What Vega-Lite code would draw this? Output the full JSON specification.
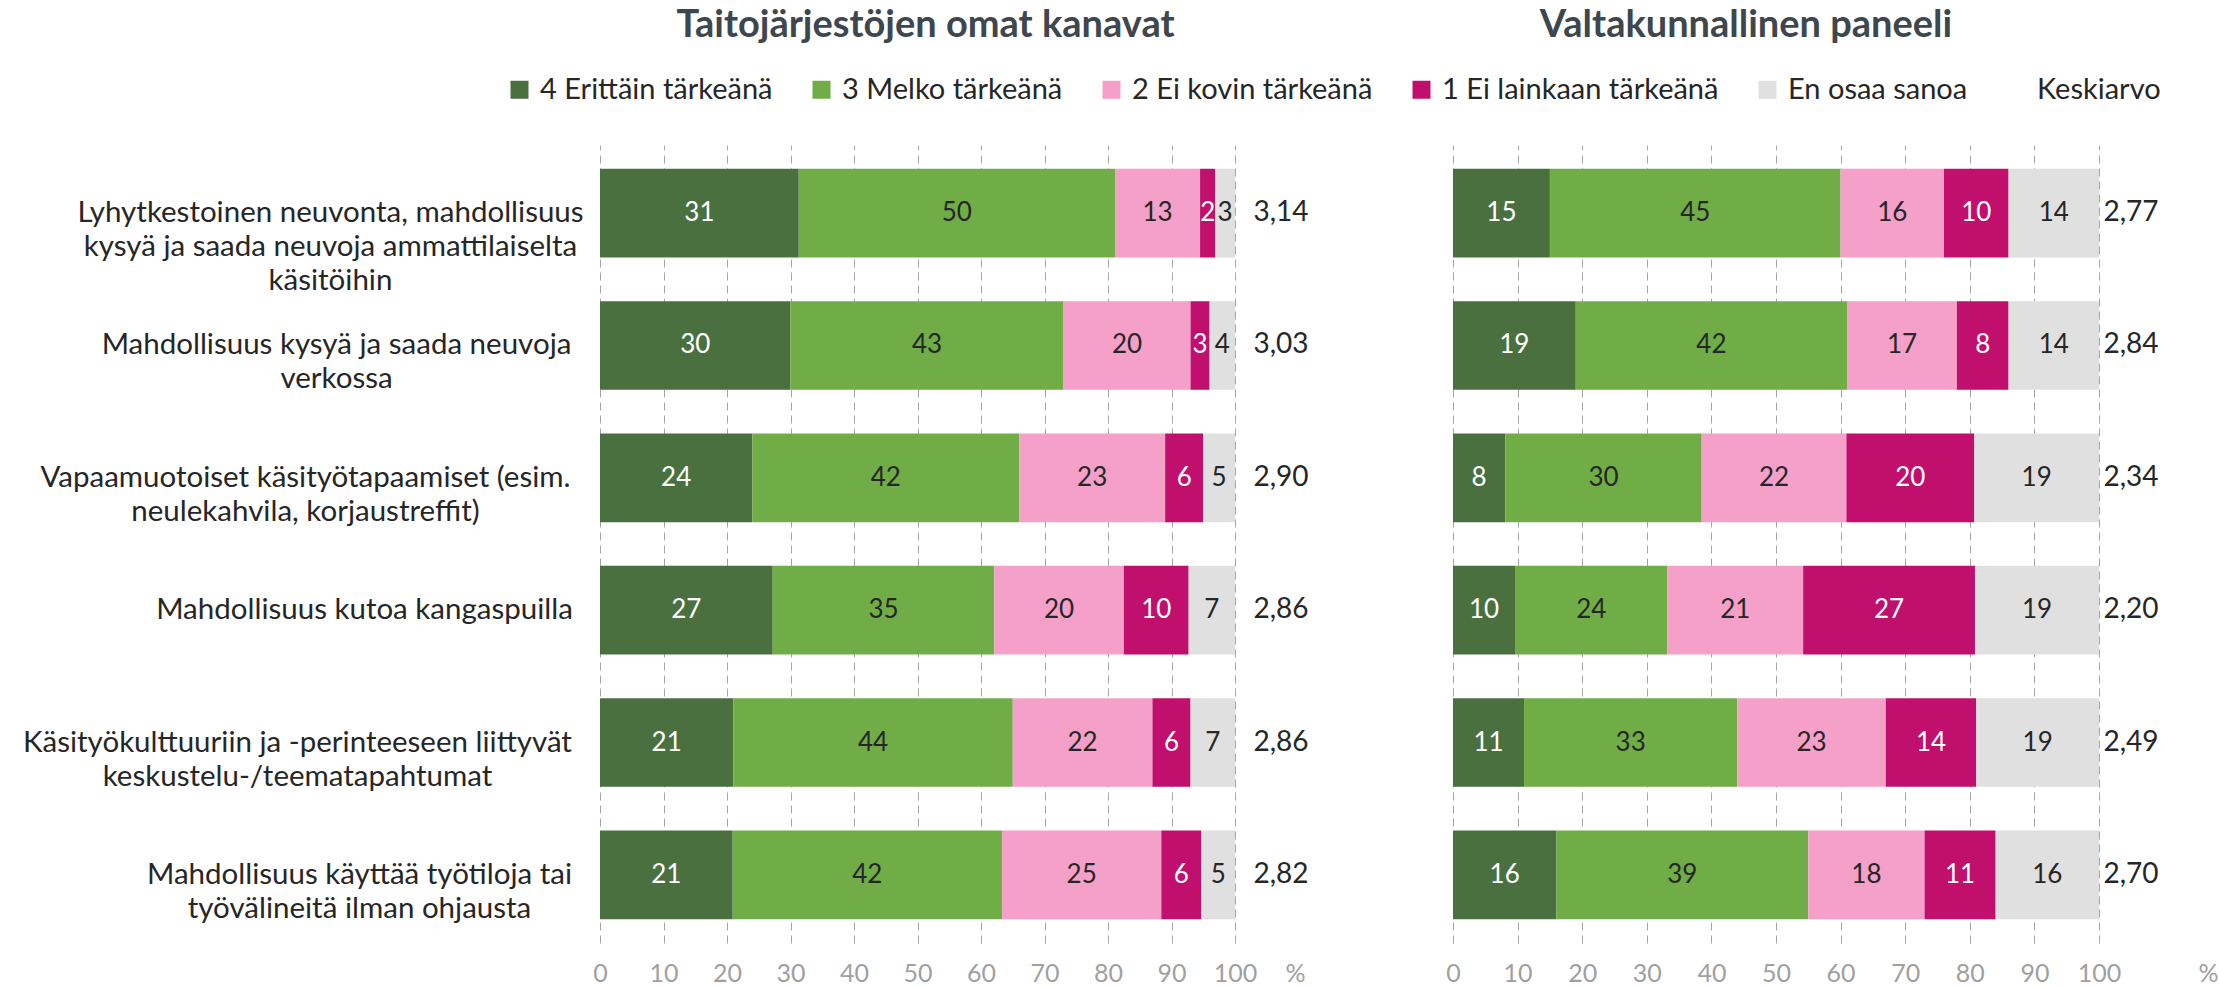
{
  "$schema": "https://vega.github.io/schema/vega-lite/v6.json",
  "bounds": "flush",
  "spacing": 218,
  "padding": {"left": 22, "top": 7, "right": 5, "bottom": 0},
  "config": {
    "font": "Lato",
    "view": {"stroke": null},
    "locale": {"number": {"decimal": ",", "thousands": " ", "grouping": [3], "currency": ["", " €"]}},
    "axis": {"labelFont": "Lato", "titleFont": "Lato"}
  },
  "datasets": {
    "bars": [
      {"panel": "L", "qi": 1, "q": "Lyhytkestoinen neuvonta, mahdollisuus|kysyä ja saada neuvoja ammattilaiselta|käsitöihin", "k": 1, "cat": "4 Erittäin tärkeänä", "value": 31.3},
      {"panel": "L", "qi": 1, "q": "Lyhytkestoinen neuvonta, mahdollisuus|kysyä ja saada neuvoja ammattilaiselta|käsitöihin", "k": 2, "cat": "3 Melko tärkeänä", "value": 49.8},
      {"panel": "L", "qi": 1, "q": "Lyhytkestoinen neuvonta, mahdollisuus|kysyä ja saada neuvoja ammattilaiselta|käsitöihin", "k": 3, "cat": "2 Ei kovin tärkeänä", "value": 13.4},
      {"panel": "L", "qi": 1, "q": "Lyhytkestoinen neuvonta, mahdollisuus|kysyä ja saada neuvoja ammattilaiselta|käsitöihin", "k": 4, "cat": "1 Ei lainkaan tärkeänä", "value": 2.4},
      {"panel": "L", "qi": 1, "q": "Lyhytkestoinen neuvonta, mahdollisuus|kysyä ja saada neuvoja ammattilaiselta|käsitöihin", "k": 5, "cat": "En osaa sanoa", "value": 3.1},
      {"panel": "L", "qi": 2, "q": "Mahdollisuus kysyä ja saada neuvoja|verkossa", "k": 1, "cat": "4 Erittäin tärkeänä", "value": 30},
      {"panel": "L", "qi": 2, "q": "Mahdollisuus kysyä ja saada neuvoja|verkossa", "k": 2, "cat": "3 Melko tärkeänä", "value": 43},
      {"panel": "L", "qi": 2, "q": "Mahdollisuus kysyä ja saada neuvoja|verkossa", "k": 3, "cat": "2 Ei kovin tärkeänä", "value": 20},
      {"panel": "L", "qi": 2, "q": "Mahdollisuus kysyä ja saada neuvoja|verkossa", "k": 4, "cat": "1 Ei lainkaan tärkeänä", "value": 3},
      {"panel": "L", "qi": 2, "q": "Mahdollisuus kysyä ja saada neuvoja|verkossa", "k": 5, "cat": "En osaa sanoa", "value": 4},
      {"panel": "L", "qi": 3, "q": "Vapaamuotoiset käsityötapaamiset (esim.|neulekahvila, korjaustreffit)", "k": 1, "cat": "4 Erittäin tärkeänä", "value": 24},
      {"panel": "L", "qi": 3, "q": "Vapaamuotoiset käsityötapaamiset (esim.|neulekahvila, korjaustreffit)", "k": 2, "cat": "3 Melko tärkeänä", "value": 42},
      {"panel": "L", "qi": 3, "q": "Vapaamuotoiset käsityötapaamiset (esim.|neulekahvila, korjaustreffit)", "k": 3, "cat": "2 Ei kovin tärkeänä", "value": 23},
      {"panel": "L", "qi": 3, "q": "Vapaamuotoiset käsityötapaamiset (esim.|neulekahvila, korjaustreffit)", "k": 4, "cat": "1 Ei lainkaan tärkeänä", "value": 6},
      {"panel": "L", "qi": 3, "q": "Vapaamuotoiset käsityötapaamiset (esim.|neulekahvila, korjaustreffit)", "k": 5, "cat": "En osaa sanoa", "value": 5},
      {"panel": "L", "qi": 4, "q": "Mahdollisuus kutoa kangaspuilla", "k": 1, "cat": "4 Erittäin tärkeänä", "value": 27.2},
      {"panel": "L", "qi": 4, "q": "Mahdollisuus kutoa kangaspuilla", "k": 2, "cat": "3 Melko tärkeänä", "value": 34.9},
      {"panel": "L", "qi": 4, "q": "Mahdollisuus kutoa kangaspuilla", "k": 3, "cat": "2 Ei kovin tärkeänä", "value": 20.4},
      {"panel": "L", "qi": 4, "q": "Mahdollisuus kutoa kangaspuilla", "k": 4, "cat": "1 Ei lainkaan tärkeänä", "value": 10.2},
      {"panel": "L", "qi": 4, "q": "Mahdollisuus kutoa kangaspuilla", "k": 5, "cat": "En osaa sanoa", "value": 7.3},
      {"panel": "L", "qi": 5, "q": "Käsityökulttuuriin ja -perinteeseen liittyvät|keskustelu-/teematapahtumat", "k": 1, "cat": "4 Erittäin tärkeänä", "value": 21},
      {"panel": "L", "qi": 5, "q": "Käsityökulttuuriin ja -perinteeseen liittyvät|keskustelu-/teematapahtumat", "k": 2, "cat": "3 Melko tärkeänä", "value": 44},
      {"panel": "L", "qi": 5, "q": "Käsityökulttuuriin ja -perinteeseen liittyvät|keskustelu-/teematapahtumat", "k": 3, "cat": "2 Ei kovin tärkeänä", "value": 22},
      {"panel": "L", "qi": 5, "q": "Käsityökulttuuriin ja -perinteeseen liittyvät|keskustelu-/teematapahtumat", "k": 4, "cat": "1 Ei lainkaan tärkeänä", "value": 6},
      {"panel": "L", "qi": 5, "q": "Käsityökulttuuriin ja -perinteeseen liittyvät|keskustelu-/teematapahtumat", "k": 5, "cat": "En osaa sanoa", "value": 7},
      {"panel": "L", "qi": 6, "q": "Mahdollisuus käyttää työtiloja tai|työvälineitä ilman ohjausta", "k": 1, "cat": "4 Erittäin tärkeänä", "value": 20.9},
      {"panel": "L", "qi": 6, "q": "Mahdollisuus käyttää työtiloja tai|työvälineitä ilman ohjausta", "k": 2, "cat": "3 Melko tärkeänä", "value": 42.4},
      {"panel": "L", "qi": 6, "q": "Mahdollisuus käyttää työtiloja tai|työvälineitä ilman ohjausta", "k": 3, "cat": "2 Ei kovin tärkeänä", "value": 25.1},
      {"panel": "L", "qi": 6, "q": "Mahdollisuus käyttää työtiloja tai|työvälineitä ilman ohjausta", "k": 4, "cat": "1 Ei lainkaan tärkeänä", "value": 6.3},
      {"panel": "L", "qi": 6, "q": "Mahdollisuus käyttää työtiloja tai|työvälineitä ilman ohjausta", "k": 5, "cat": "En osaa sanoa", "value": 5.3},
      {"panel": "R", "qi": 1, "q": "Lyhytkestoinen neuvonta, mahdollisuus|kysyä ja saada neuvoja ammattilaiselta|käsitöihin", "k": 1, "cat": "4 Erittäin tärkeänä", "value": 15},
      {"panel": "R", "qi": 1, "q": "Lyhytkestoinen neuvonta, mahdollisuus|kysyä ja saada neuvoja ammattilaiselta|käsitöihin", "k": 2, "cat": "3 Melko tärkeänä", "value": 45},
      {"panel": "R", "qi": 1, "q": "Lyhytkestoinen neuvonta, mahdollisuus|kysyä ja saada neuvoja ammattilaiselta|käsitöihin", "k": 3, "cat": "2 Ei kovin tärkeänä", "value": 16},
      {"panel": "R", "qi": 1, "q": "Lyhytkestoinen neuvonta, mahdollisuus|kysyä ja saada neuvoja ammattilaiselta|käsitöihin", "k": 4, "cat": "1 Ei lainkaan tärkeänä", "value": 10},
      {"panel": "R", "qi": 1, "q": "Lyhytkestoinen neuvonta, mahdollisuus|kysyä ja saada neuvoja ammattilaiselta|käsitöihin", "k": 5, "cat": "En osaa sanoa", "value": 14},
      {"panel": "R", "qi": 2, "q": "Mahdollisuus kysyä ja saada neuvoja|verkossa", "k": 1, "cat": "4 Erittäin tärkeänä", "value": 19},
      {"panel": "R", "qi": 2, "q": "Mahdollisuus kysyä ja saada neuvoja|verkossa", "k": 2, "cat": "3 Melko tärkeänä", "value": 42},
      {"panel": "R", "qi": 2, "q": "Mahdollisuus kysyä ja saada neuvoja|verkossa", "k": 3, "cat": "2 Ei kovin tärkeänä", "value": 17},
      {"panel": "R", "qi": 2, "q": "Mahdollisuus kysyä ja saada neuvoja|verkossa", "k": 4, "cat": "1 Ei lainkaan tärkeänä", "value": 8},
      {"panel": "R", "qi": 2, "q": "Mahdollisuus kysyä ja saada neuvoja|verkossa", "k": 5, "cat": "En osaa sanoa", "value": 14},
      {"panel": "R", "qi": 3, "q": "Vapaamuotoiset käsityötapaamiset (esim.|neulekahvila, korjaustreffit)", "k": 1, "cat": "4 Erittäin tärkeänä", "value": 8.1},
      {"panel": "R", "qi": 3, "q": "Vapaamuotoiset käsityötapaamiset (esim.|neulekahvila, korjaustreffit)", "k": 2, "cat": "3 Melko tärkeänä", "value": 30.4},
      {"panel": "R", "qi": 3, "q": "Vapaamuotoiset käsityötapaamiset (esim.|neulekahvila, korjaustreffit)", "k": 3, "cat": "2 Ei kovin tärkeänä", "value": 22.4},
      {"panel": "R", "qi": 3, "q": "Vapaamuotoiset käsityötapaamiset (esim.|neulekahvila, korjaustreffit)", "k": 4, "cat": "1 Ei lainkaan tärkeänä", "value": 19.8},
      {"panel": "R", "qi": 3, "q": "Vapaamuotoiset käsityötapaamiset (esim.|neulekahvila, korjaustreffit)", "k": 5, "cat": "En osaa sanoa", "value": 19.3},
      {"panel": "R", "qi": 4, "q": "Mahdollisuus kutoa kangaspuilla", "k": 1, "cat": "4 Erittäin tärkeänä", "value": 9.6},
      {"panel": "R", "qi": 4, "q": "Mahdollisuus kutoa kangaspuilla", "k": 2, "cat": "3 Melko tärkeänä", "value": 23.6},
      {"panel": "R", "qi": 4, "q": "Mahdollisuus kutoa kangaspuilla", "k": 3, "cat": "2 Ei kovin tärkeänä", "value": 21.0},
      {"panel": "R", "qi": 4, "q": "Mahdollisuus kutoa kangaspuilla", "k": 4, "cat": "1 Ei lainkaan tärkeänä", "value": 26.6},
      {"panel": "R", "qi": 4, "q": "Mahdollisuus kutoa kangaspuilla", "k": 5, "cat": "En osaa sanoa", "value": 19.2},
      {"panel": "R", "qi": 5, "q": "Käsityökulttuuriin ja -perinteeseen liittyvät|keskustelu-/teematapahtumat", "k": 1, "cat": "4 Erittäin tärkeänä", "value": 11},
      {"panel": "R", "qi": 5, "q": "Käsityökulttuuriin ja -perinteeseen liittyvät|keskustelu-/teematapahtumat", "k": 2, "cat": "3 Melko tärkeänä", "value": 33},
      {"panel": "R", "qi": 5, "q": "Käsityökulttuuriin ja -perinteeseen liittyvät|keskustelu-/teematapahtumat", "k": 3, "cat": "2 Ei kovin tärkeänä", "value": 23},
      {"panel": "R", "qi": 5, "q": "Käsityökulttuuriin ja -perinteeseen liittyvät|keskustelu-/teematapahtumat", "k": 4, "cat": "1 Ei lainkaan tärkeänä", "value": 14},
      {"panel": "R", "qi": 5, "q": "Käsityökulttuuriin ja -perinteeseen liittyvät|keskustelu-/teematapahtumat", "k": 5, "cat": "En osaa sanoa", "value": 19},
      {"panel": "R", "qi": 6, "q": "Mahdollisuus käyttää työtiloja tai|työvälineitä ilman ohjausta", "k": 1, "cat": "4 Erittäin tärkeänä", "value": 16},
      {"panel": "R", "qi": 6, "q": "Mahdollisuus käyttää työtiloja tai|työvälineitä ilman ohjausta", "k": 2, "cat": "3 Melko tärkeänä", "value": 39},
      {"panel": "R", "qi": 6, "q": "Mahdollisuus käyttää työtiloja tai|työvälineitä ilman ohjausta", "k": 3, "cat": "2 Ei kovin tärkeänä", "value": 18},
      {"panel": "R", "qi": 6, "q": "Mahdollisuus käyttää työtiloja tai|työvälineitä ilman ohjausta", "k": 4, "cat": "1 Ei lainkaan tärkeänä", "value": 11},
      {"panel": "R", "qi": 6, "q": "Mahdollisuus käyttää työtiloja tai|työvälineitä ilman ohjausta", "k": 5, "cat": "En osaa sanoa", "value": 16}
    ],
    "means": [
      {"panel": "L", "qi": 1, "q": "Lyhytkestoinen neuvonta, mahdollisuus|kysyä ja saada neuvoja ammattilaiselta|käsitöihin", "mean": 3.14},
      {"panel": "L", "qi": 2, "q": "Mahdollisuus kysyä ja saada neuvoja|verkossa", "mean": 3.03},
      {"panel": "L", "qi": 3, "q": "Vapaamuotoiset käsityötapaamiset (esim.|neulekahvila, korjaustreffit)", "mean": 2.90},
      {"panel": "L", "qi": 4, "q": "Mahdollisuus kutoa kangaspuilla", "mean": 2.86},
      {"panel": "L", "qi": 5, "q": "Käsityökulttuuriin ja -perinteeseen liittyvät|keskustelu-/teematapahtumat", "mean": 2.86},
      {"panel": "L", "qi": 6, "q": "Mahdollisuus käyttää työtiloja tai|työvälineitä ilman ohjausta", "mean": 2.82},
      {"panel": "R", "qi": 1, "q": "Lyhytkestoinen neuvonta, mahdollisuus|kysyä ja saada neuvoja ammattilaiselta|käsitöihin", "mean": 2.77},
      {"panel": "R", "qi": 2, "q": "Mahdollisuus kysyä ja saada neuvoja|verkossa", "mean": 2.84},
      {"panel": "R", "qi": 3, "q": "Vapaamuotoiset käsityötapaamiset (esim.|neulekahvila, korjaustreffit)", "mean": 2.34},
      {"panel": "R", "qi": 4, "q": "Mahdollisuus kutoa kangaspuilla", "mean": 2.20},
      {"panel": "R", "qi": 5, "q": "Käsityökulttuuriin ja -perinteeseen liittyvät|keskustelu-/teematapahtumat", "mean": 2.49},
      {"panel": "R", "qi": 6, "q": "Mahdollisuus käyttää työtiloja tai|työvälineitä ilman ohjausta", "mean": 2.70}
    ]
  },
  "hconcat": [
    {
      "width": 635,
      "height": 798,
      "title": {"text": "Taitojärjestöjen omat kanavat", "fontSize": 38, "fontWeight": "bold", "color": "#3E474E", "offset": 100, "frame": "group", "anchor": "middle", "dx": 8},
      "layer": [
        {
          "data": {"name": "bars"},
          "transform": [
            {"filter": "datum.panel == 'L'"},
            {"stack": "value", "groupby": ["q"], "sort": [{"field": "k", "order": "ascending"}], "as": ["x0", "x1"]}
          ],
          "mark": {"type": "bar"},
          "encoding": {
            "y": {"field": "q", "type": "nominal", "sort": {"field": "qi", "op": "min"},
              "scale": {"paddingInner": 0.33, "paddingOuter": 0.18},
              "axis": {"title": null, "domain": false, "ticks": false, "labelExpr": "split(datum.label, '|')", "labelFontSize": 29.5, "labelColor": "#262626", "labelLineHeight": 34, "labelLimit": 0, "labelAlign": "center",
                "labelPadding": {"condition": [
                  {"test": "indexof(datum.value, 'Lyhyt') == 0", "value": 270},
                  {"test": "indexof(datum.value, 'Mahdollisuus kysy') == 0", "value": 264},
                  {"test": "indexof(datum.value, 'Vapaa') == 0", "value": 295},
                  {"test": "indexof(datum.value, 'Mahdollisuus kutoa') == 0", "value": 236},
                  {"test": "indexof(datum.value, 'Käsity') == 0", "value": 303}
                ], "value": 241}}},
            "x": {"field": "x0", "type": "quantitative", "scale": {"domain": [0, 100], "nice": false},
              "axis": {"title": "%", "values": [0,10,20,30,40,50,60,70,80,90,100], "domain": false, "ticks": false, "grid": true, "gridDash": [8, 5], "gridColor": "#A6A6A6", "labelColor": "#A0A0A0", "labelFontSize": 25, "labelFlush": false, "labelPadding": 18, "titleColor": "#A0A0A0", "titleFontSize": 25, "titleFontWeight": "normal", "titleBaseline": "top", "titleAnchor": "start", "titleX": 685, "titleY": 18}},
            "x2": {"field": "x1"},
            "color": {"field": "cat", "type": "nominal",
              "scale": {"domain": ["4 Erittäin tärkeänä", "3 Melko tärkeänä", "2 Ei kovin tärkeänä", "1 Ei lainkaan tärkeänä", "En osaa sanoa", "Keskiarvo"],
                "range": ["#4A7040", "#70AD47", "#F4A0C8", "#C00F6D", "#E0E0E0", "transparent"]},
              "legend": {"title": null, "orient": "none", "legendX": -95, "legendY": -70, "direction": "horizontal", "columns": 6, "columnPadding": 34, "symbolType": "square", "symbolSize": 324, "symbolStrokeWidth": 0, "labelFontSize": 29, "labelColor": "#262626", "labelOffset": 6, "labelLimit": 0}}
          }
        },
        {
          "data": {"name": "bars"},
          "transform": [
            {"filter": "datum.panel == 'L'"},
            {"stack": "value", "groupby": ["q"], "sort": [{"field": "k", "order": "ascending"}], "as": ["x0", "x1"]},
            {"calculate": "(datum.x0 + datum.x1) / 2", "as": "xmid"}
          ],
          "mark": {"type": "text", "fontSize": 26, "align": "center", "baseline": "middle"},
          "encoding": {
            "y": {"field": "q", "type": "nominal", "sort": {"field": "qi", "op": "min"}},
            "x": {"field": "xmid", "type": "quantitative"},
            "text": {"field": "value", "type": "quantitative", "format": ".0f"},
            "color": {"condition": {"test": "datum.k == 1 || datum.k == 4", "value": "#FFFFFF"}, "value": "#262626"}
          }
        },
        {
          "data": {"name": "means"},
          "transform": [{"filter": "datum.panel == 'L'"}],
          "mark": {"type": "text", "fontSize": 28, "align": "center", "baseline": "middle", "dx": 46, "color": "#262626"},
          "encoding": {
            "y": {"field": "q", "type": "nominal", "sort": {"field": "qi", "op": "min"}},
            "x": {"datum": 100, "type": "quantitative"},
            "text": {"field": "mean", "type": "quantitative", "format": ".2f"}
          }
        }
      ]
    },
    {
      "width": 646,
      "height": 798,
      "title": {"text": "Valtakunnallinen paneeli", "fontSize": 38, "fontWeight": "bold", "color": "#3E474E", "offset": 100, "frame": "group", "anchor": "middle", "dx": -30},
      "layer": [
        {
          "data": {"name": "bars"},
          "transform": [
            {"filter": "datum.panel == 'R'"},
            {"stack": "value", "groupby": ["q"], "sort": [{"field": "k", "order": "ascending"}], "as": ["x0", "x1"]}
          ],
          "mark": {"type": "bar"},
          "encoding": {
            "y": {"field": "q", "type": "nominal", "sort": {"field": "qi", "op": "min"},
              "scale": {"paddingInner": 0.33, "paddingOuter": 0.18}, "axis": null},
            "x": {"field": "x0", "type": "quantitative", "scale": {"domain": [0, 100], "nice": false},
              "axis": {"title": "%", "values": [0,10,20,30,40,50,60,70,80,90,100], "domain": false, "ticks": false, "grid": true, "gridDash": [8, 5], "gridColor": "#A6A6A6", "labelColor": "#A0A0A0", "labelFontSize": 25, "labelFlush": false, "labelPadding": 18, "titleColor": "#A0A0A0", "titleFontSize": 25, "titleFontWeight": "normal", "titleBaseline": "top", "titleAnchor": "start", "titleX": 745, "titleY": 18}},
            "x2": {"field": "x1"},
            "color": {"field": "cat", "type": "nominal"}
          }
        },
        {
          "data": {"name": "bars"},
          "transform": [
            {"filter": "datum.panel == 'R'"},
            {"stack": "value", "groupby": ["q"], "sort": [{"field": "k", "order": "ascending"}], "as": ["x0", "x1"]},
            {"calculate": "(datum.x0 + datum.x1) / 2", "as": "xmid"}
          ],
          "mark": {"type": "text", "fontSize": 26, "align": "center", "baseline": "middle"},
          "encoding": {
            "y": {"field": "q", "type": "nominal", "sort": {"field": "qi", "op": "min"}},
            "x": {"field": "xmid", "type": "quantitative"},
            "text": {"field": "value", "type": "quantitative", "format": ".0f"},
            "color": {"condition": {"test": "datum.k == 1 || datum.k == 4", "value": "#FFFFFF"}, "value": "#262626"}
          }
        },
        {
          "data": {"name": "means"},
          "transform": [{"filter": "datum.panel == 'R'"}],
          "mark": {"type": "text", "fontSize": 28, "align": "center", "baseline": "middle", "dx": 32, "color": "#262626"},
          "encoding": {
            "y": {"field": "q", "type": "nominal", "sort": {"field": "qi", "op": "min"}},
            "x": {"datum": 100, "type": "quantitative"},
            "text": {"field": "mean", "type": "quantitative", "format": ".2f"}
          }
        }
      ]
    }
  ]
}
